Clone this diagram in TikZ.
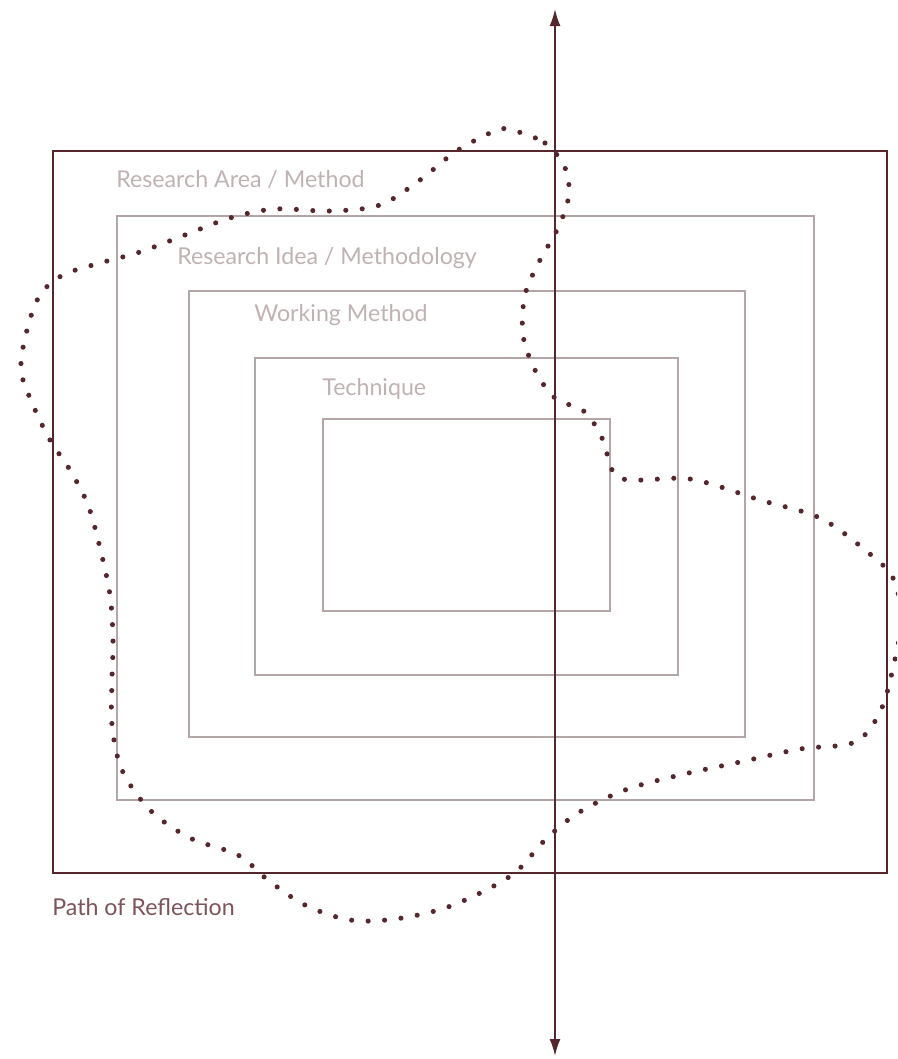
\documentclass[tikz,border=0pt]{standalone}
\usepackage{fontspec}
\setmainfont{Lato}
\usepackage{tikz}
\usetikzlibrary{arrows.meta}
\definecolor{maroon}{RGB}{86,38,45}
\definecolor{boxgray}{RGB}{180,166,166}
\definecolor{labelgray}{RGB}{192,178,178}
\definecolor{pathtext}{RGB}{125,84,90}

\begin{document}
\begin{tikzpicture}[x=0.02cm,y=-0.02cm,
    outerbox/.style={draw=maroon,line width=1.4pt},
    innerbox/.style={draw=boxgray,line width=1.1pt},
    boxlabel/.style={anchor=west,inner sep=0pt,text=labelgray,font=\fontsize{13.2}{16}\selectfont},
    reflection/.style={maroon,line width=2.9pt,line cap=round,dash pattern=on 0pt off 0.33cm}]
  \useasboundingbox (0,0) rectangle (897,1059);
  % nested frames
  \draw[outerbox] (53,151) rectangle (887,873);
  \draw[innerbox] (117,216) rectangle (814,800);
  \draw[innerbox] (189,291) rectangle (745,737);
  \draw[innerbox] (255,358) rectangle (678,675);
  \draw[innerbox] (323,419) rectangle (610,611);
  % frame labels
  \node[boxlabel] (area) at (116,179) {Research Area / Method};
  \node[boxlabel] (idea) at (177,258) {Research Idea / Methodology};
  \node[boxlabel] (working) at (254,315) {Working Method};
  \node[boxlabel] (technique) at (322,389) {Technique};
  \node[boxlabel,text=pathtext] (pathlabel) at (52,907) {Path of Reflection};
  % vertical axis
  \coordinate (axisbot) at (555,1056);
  \coordinate (axistop) at (555,9);
  \draw[maroon,line width=1.1pt,{Latex[length=0.34cm,width=0.22cm]}-{Latex[length=0.34cm,width=0.22cm]}] (axisbot) -- (axistop);
  % dotted path of reflection
  \begin{scope}
    \clip (0,0) rectangle (897,1059);
    \draw[reflection] plot[smooth cycle,tension=0.55] coordinates {
      (507,129) (545,143) (566,170) (568,200) (556,232) (540,260)
      (525,295) (523,335) (535,370) (555,398) (585,412) (603,440)
      (620,478) (690,479) (760,500) (820,518) (865,550) (893,578)
      (901,620) (893,668) (880,712) (855,742) (800,749) (740,762)
      (680,775) (625,790) (578,813) (545,840) (518,870) (490,888)
      (445,908) (395,919) (350,920) (305,905) (268,880) (238,855)
      (190,838) (150,810) (122,770) (112,725) (112,680) (113,640)
      (110,595) (100,548) (88,505) (70,470) (50,440) (33,405)
      (21,370) (27,330) (40,295) (63,275) (100,263) (140,252)
      (185,235) (230,218) (275,209) (330,211) (380,205) (420,180)
      (455,152) (490,133)};
  \end{scope}
\end{tikzpicture}
\end{document}
